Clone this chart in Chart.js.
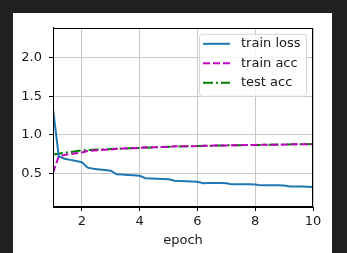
<!DOCTYPE html>
<html>
<head>
<meta charset="utf-8">
<script src="https://cdn.jsdelivr.net/npm/chart.js@4"></script>
<style>
    html, body { margin: 0; padding: 0; background: #212121; width: 347px; height: 253px; overflow: hidden; }
    #panel { position: absolute; left: 13px; top: 13px; width: 319px; height: 240px; background: #fff; }
</style>
</head>
<body>
<div id="panel"><canvas id="lossChart" width="319" height="240"></canvas></div>
<script>
'use strict';

// epoch positions of the training curves (5 points per epoch)
const epochsFine = [
    1.0, 1.2, 1.4, 1.6, 1.8, 2.0, 2.2, 2.4, 2.6, 2.8, 3.0,
    3.2, 3.4, 3.6, 3.8, 4.0, 4.2, 4.4, 4.6, 4.8, 5.0,
    5.2, 5.4, 5.6, 5.8, 6.0, 6.2, 6.4, 6.6, 6.8, 7.0,
    7.2, 7.4, 7.6, 7.8, 8.0, 8.2, 8.4, 8.6, 8.8, 9.0,
    9.2, 9.4, 9.6, 9.8, 10.0
];
const trainLoss = [
    1.335, 0.72, 0.69, 0.675, 0.66, 0.645, 0.575, 0.56, 0.552, 0.545, 0.535,
    0.488, 0.485, 0.48, 0.476, 0.47, 0.437, 0.433, 0.43, 0.428, 0.424,
    0.405, 0.402, 0.399, 0.396, 0.392, 0.372, 0.375, 0.376, 0.375, 0.372,
    0.358, 0.36, 0.361, 0.36, 0.357, 0.345, 0.346, 0.346, 0.345, 0.343,
    0.331, 0.331, 0.329, 0.327, 0.325
];
const trainAcc = [
    0.51, 0.72, 0.74, 0.75, 0.76, 0.77, 0.79, 0.795, 0.80, 0.805, 0.81,
    0.82, 0.823, 0.825, 0.827, 0.83, 0.837, 0.839, 0.84, 0.842, 0.843,
    0.85, 0.851, 0.852, 0.853, 0.854, 0.858, 0.859, 0.86, 0.861, 0.862,
    0.866, 0.866, 0.867, 0.867, 0.868, 0.871, 0.871, 0.872, 0.872, 0.873,
    0.876, 0.876, 0.877, 0.877, 0.878
];
const testEpochs = [1, 2, 3, 4, 5, 6, 7, 8, 9, 10];
const testAcc = [0.744, 0.80, 0.815, 0.83, 0.845, 0.855, 0.863, 0.868, 0.874, 0.88];

const xTicks = [2, 4, 6, 8, 10];
const yTicks = [0.5, 1.0, 1.5, 2.0];
const seriesNames = ['train loss', 'train acc', 'test acc'];

const FONT = "'DejaVu Sans', sans-serif";

function toPoints(xs, ys) {
    return xs.map((x, i) => ({ x: x, y: ys[i] }));
}

// top/right spines + legend drawn inside the plot, matplotlib style
const framePlugin = {
    id: 'frame',
    afterDraw(chart) {
        const { ctx, chartArea: a } = chart;
        ctx.save();
        ctx.strokeStyle = '#000';
        ctx.lineWidth = 1;
        ctx.strokeRect(Math.round(a.left) + 0.5, Math.round(a.top) + 0.5,
            Math.round(a.right - a.left) - 1, Math.round(a.bottom - a.top) - 1);

        // legend box
        const bx = a.right - 114, by = a.top + 6, bw = 107, bh = 62;
        ctx.beginPath();
        ctx.roundRect(bx + 0.5, by + 0.5, bw, bh, 3);
        ctx.fillStyle = 'rgba(255,255,255,0.8)';
        ctx.fill();
        ctx.strokeStyle = '#d6d6d6';
        ctx.stroke();

        ctx.font = '13px ' + FONT;
        ctx.textBaseline = 'middle';
        chart.data.datasets.forEach((ds, i) => {
            const y = by + 10 + i * 19.5;
            ctx.beginPath();
            ctx.setLineDash(ds.borderDash || []);
            ctx.strokeStyle = ds.borderColor;
            ctx.lineWidth = ds.borderWidth;
            ctx.moveTo(bx + 4, y);
            ctx.lineTo(bx + 31, y);
            ctx.stroke();
            ctx.setLineDash([]);
            ctx.fillStyle = '#1a1a1a';
            ctx.fillText(ds.label, bx + 42, y);
        });
        ctx.restore();
    }
};

new Chart(document.getElementById('lossChart'), {
    type: 'line',
    data: {
        datasets: [{
            label: seriesNames[0],
            data: toPoints(epochsFine, trainLoss),
            borderColor: '#1f77b4',
            borderWidth: 2,
            pointRadius: 0
        }, {
            label: seriesNames[1],
            data: toPoints(epochsFine, trainAcc),
            borderColor: '#bf00bf',
            borderWidth: 2,
            borderDash: [7, 3],
            pointRadius: 0
        }, {
            label: seriesNames[2],
            data: toPoints(testEpochs, testAcc),
            borderColor: '#008000',
            borderWidth: 2,
            borderDash: [10, 3, 2, 3],
            pointRadius: 0
        }]
    },
    options: {
        responsive: false,
        animation: false,
        layout: { padding: { left: 0, top: 10, right: 19, bottom: 0 } },
        scales: {
            x: {
                type: 'linear',
                min: 1,
                max: 10,
                afterBuildTicks: (s) => { s.ticks = xTicks.map(v => ({ value: v })); },
                afterFit: (s) => { s.height = 46; },
                ticks: {
                    color: '#1a1a1a',
                    padding: 3,
                    maxRotation: 0,
                    font: { size: 13, family: FONT },
                    callback: (v) => String(v)
                },
                grid: { color: '#c8c8c8', lineWidth: 1, tickLength: 4, tickColor: '#000' },
                border: { color: '#000', width: 1 },
                title: {
                    display: true,
                    text: 'epoch',
                    color: '#1a1a1a',
                    font: { size: 13, family: FONT },
                    padding: { top: 0, bottom: 5 }
                }
            },
            y: {
                type: 'linear',
                min: 0.065,
                max: 2.385,
                afterBuildTicks: (s) => { s.ticks = yTicks.map(v => ({ value: v })); },
                afterFit: (s) => { s.width = 40; },
                ticks: {
                    color: '#1a1a1a',
                    padding: 7,
                    font: { size: 13, family: FONT },
                    callback: (v) => v.toFixed(1)
                },
                grid: { color: '#c8c8c8', lineWidth: 1, tickLength: 4, tickColor: '#000' },
                border: { color: '#000', width: 1 }
            }
        },
        plugins: {
            legend: { display: false },
            tooltip: { enabled: false }
        }
    },
    plugins: [framePlugin]
});
</script>
</body>
</html>
